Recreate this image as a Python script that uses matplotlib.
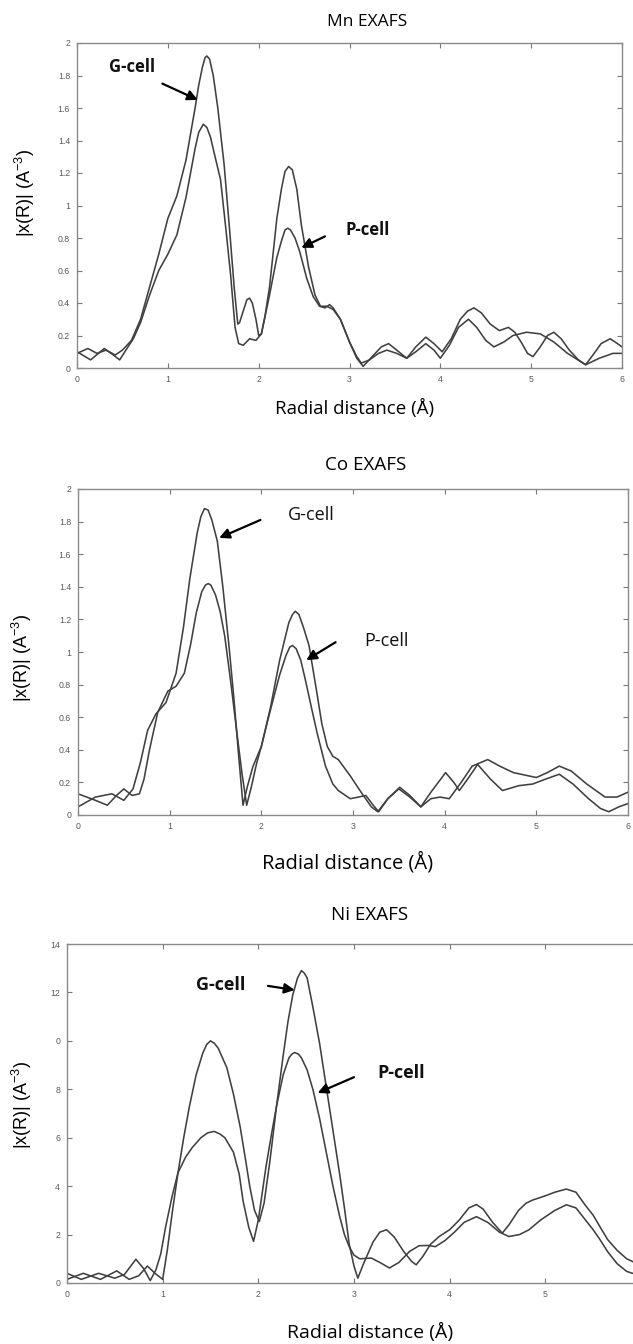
"""
Mn / Co / Ni EXAFS radial distribution, G-cell vs P-cell
"""

import matplotlib
matplotlib.use("Agg")
import matplotlib.pyplot as plt

plt.rcParams['mathtext.default'] = 'regular'

# ---- Mn EXAFS ----
mn_g_x = [0, 0.12, 0.22, 0.32, 0.42, 0.5, 0.6, 0.7, 0.8, 0.9, 1.0, 1.1, 1.2, 1.3, 1.34, 1.38,
          1.41, 1.43, 1.46, 1.5, 1.55, 1.62, 1.68, 1.73, 1.77, 1.79, 1.83, 1.87, 1.9, 1.93, 1.97,
          2.0, 2.03, 2.07, 2.12, 2.2, 2.25, 2.29, 2.33, 2.37, 2.42, 2.47, 2.55, 2.62, 2.68, 2.75,
          2.82, 2.9, 3.0, 3.08, 3.15, 3.25, 3.35, 3.43, 3.52, 3.63, 3.73, 3.84, 3.93, 4.02, 4.12,
          4.22, 4.3, 4.37, 4.45, 4.55, 4.65, 4.75, 4.82, 4.9, 4.96, 5.02, 5.1, 5.18, 5.25, 5.33,
          5.42, 5.52, 5.6, 5.68, 5.77, 5.87, 5.95, 6.0]
mn_g_y = [0.09, 0.12, 0.09, 0.11, 0.08, 0.11, 0.17, 0.30, 0.50, 0.70, 0.92, 1.06, 1.28, 1.60,
          1.74, 1.85, 1.91, 1.92, 1.90, 1.80, 1.60, 1.25, 0.85, 0.50, 0.27, 0.28, 0.35, 0.42,
          0.43, 0.40, 0.30, 0.20, 0.21, 0.32, 0.50, 0.92, 1.10, 1.21, 1.24, 1.22, 1.10, 0.88,
          0.62, 0.45, 0.38, 0.38, 0.36, 0.30, 0.16, 0.06, 0.01, 0.07, 0.13, 0.15, 0.11, 0.06,
          0.13, 0.19, 0.15, 0.10, 0.18, 0.30, 0.35, 0.37, 0.34, 0.27, 0.23, 0.25, 0.22, 0.15,
          0.09, 0.07, 0.13, 0.20, 0.22, 0.18, 0.11, 0.05, 0.02, 0.08, 0.15, 0.18, 0.15, 0.13]
mn_p_x = [0, 0.15, 0.3, 0.4, 0.47, 0.55, 0.62, 0.7, 0.8, 0.9, 1.0, 1.1, 1.2, 1.3, 1.34, 1.39,
          1.43, 1.47, 1.52, 1.58, 1.64, 1.69, 1.74, 1.78, 1.83, 1.9, 1.97, 2.03, 2.12, 2.2, 2.25,
          2.29, 2.32, 2.35, 2.4, 2.45, 2.53, 2.6, 2.67, 2.73, 2.78, 2.82, 2.9, 3.0, 3.08, 3.13,
          3.22, 3.32, 3.41, 3.52, 3.63, 3.73, 3.84, 3.93, 4.0, 4.1, 4.2, 4.31, 4.4, 4.5, 4.59,
          4.7, 4.8, 4.95, 5.1, 5.25, 5.4, 5.6, 5.75, 5.9, 6.0]
mn_p_y = [0.10, 0.05, 0.12, 0.08, 0.05, 0.12, 0.18, 0.28, 0.45, 0.60, 0.70, 0.82, 1.05, 1.35,
          1.45, 1.50, 1.48, 1.42, 1.30, 1.16, 0.85, 0.58, 0.25, 0.15, 0.14, 0.18, 0.17, 0.21,
          0.45, 0.68, 0.78, 0.85, 0.86, 0.85, 0.80, 0.72, 0.55, 0.44, 0.38, 0.37, 0.39, 0.37,
          0.30, 0.16, 0.07, 0.03, 0.05, 0.09, 0.11, 0.09, 0.06, 0.10, 0.15, 0.11, 0.06, 0.14,
          0.25, 0.30, 0.25, 0.17, 0.13, 0.16, 0.20, 0.22, 0.21, 0.16, 0.09, 0.02, 0.06, 0.09,
          0.09]

# ---- Co EXAFS ----
co_g_x = [0, 0.19, 0.37, 0.5, 0.6, 0.68, 0.76, 0.85, 0.96, 1.07, 1.15, 1.22, 1.3, 1.34, 1.38,
          1.42, 1.46, 1.52, 1.58, 1.65, 1.7, 1.75, 1.8, 1.85, 1.91, 2.0, 2.1, 2.2, 2.3, 2.34, 2.37,
          2.41, 2.46, 2.52, 2.6, 2.66, 2.72, 2.78, 2.84, 2.97, 3.1, 3.2, 3.27, 3.38, 3.5, 3.62,
          3.74, 3.85, 3.95, 4.05, 4.18, 4.3, 4.47, 4.6, 4.75, 5.0, 5.12, 5.25, 5.38, 5.55, 5.75,
          5.88, 6.0]
co_g_y = [0.05, 0.11, 0.13, 0.09, 0.16, 0.32, 0.52, 0.62, 0.69, 0.87, 1.15, 1.45, 1.73, 1.83,
          1.88, 1.87, 1.81, 1.68, 1.40, 1.02, 0.72, 0.38, 0.06, 0.18, 0.30, 0.42, 0.66, 0.95,
          1.18, 1.23, 1.25, 1.23, 1.15, 1.04, 0.77, 0.56, 0.42, 0.36, 0.34, 0.24, 0.13, 0.05,
          0.02, 0.10, 0.16, 0.11, 0.05, 0.10, 0.11, 0.10, 0.20, 0.30, 0.34, 0.30, 0.26, 0.23,
          0.26, 0.30, 0.27, 0.19, 0.11, 0.11, 0.14]
co_p_x = [0, 0.19, 0.32, 0.42, 0.5, 0.59, 0.67, 0.72, 0.78, 0.87, 0.98, 1.07, 1.16, 1.23, 1.29,
          1.35, 1.39, 1.42, 1.45, 1.5, 1.55, 1.6, 1.67, 1.73, 1.79, 1.84, 1.89, 1.95, 2.0, 2.07,
          2.13, 2.2, 2.27, 2.31, 2.34, 2.38, 2.43, 2.48, 2.55, 2.61, 2.7, 2.78, 2.84, 2.97, 3.06,
          3.14, 3.22, 3.28, 3.38, 3.51, 3.62, 3.74, 3.85, 4.01, 4.1, 4.16, 4.25, 4.36, 4.5, 4.63,
          4.81, 4.96, 5.1, 5.25, 5.4, 5.57, 5.7, 5.79, 5.9, 6.0]
co_p_y = [0.13, 0.09, 0.06, 0.12, 0.16, 0.12, 0.13, 0.22, 0.40, 0.63, 0.76, 0.79, 0.87, 1.05,
          1.24, 1.37, 1.41, 1.42, 1.41, 1.35, 1.25, 1.10, 0.80, 0.52, 0.25, 0.06, 0.17, 0.32,
          0.42, 0.58, 0.71, 0.86, 0.98, 1.03, 1.04, 1.02, 0.95, 0.83, 0.65, 0.50, 0.30, 0.19,
          0.15, 0.10, 0.11, 0.12, 0.06, 0.02, 0.10, 0.17, 0.12, 0.05, 0.14, 0.26, 0.20, 0.15,
          0.22, 0.31, 0.22, 0.15, 0.18, 0.19, 0.22, 0.25, 0.19, 0.10, 0.04, 0.02, 0.05, 0.07]

# ---- Ni EXAFS ----
ni_g_x = [0, 0.17, 0.35, 0.52, 0.65, 0.75, 0.84, 0.92, 1.0, 1.05, 1.1, 1.16, 1.22, 1.28, 1.35,
          1.42, 1.46, 1.5, 1.54, 1.58, 1.67, 1.74, 1.81, 1.87, 1.91, 1.96, 2.01, 2.06, 2.12, 2.19,
          2.26, 2.31, 2.36, 2.41, 2.45, 2.48, 2.51, 2.57, 2.64, 2.71, 2.78, 2.85, 2.9, 2.95, 3.0,
          3.04, 3.1, 3.2, 3.27, 3.34, 3.42, 3.52, 3.6, 3.65, 3.72, 3.8, 3.89, 4.0, 4.1, 4.2, 4.28,
          4.35, 4.45, 4.55, 4.62, 4.72, 4.8, 4.87, 5.0, 5.1, 5.22, 5.32, 5.42, 5.5, 5.57, 5.65,
          5.75, 5.85, 5.91, 6.0]
ni_g_y = [0.15, 0.4, 0.15, 0.5, 0.15, 0.3, 0.7, 0.4, 0.15, 1.4, 2.9, 4.55, 6.0, 7.3, 8.6, 9.5,
          9.85, 10.0, 9.9, 9.7, 8.9, 7.8, 6.45, 5.0, 4.0, 3.0, 2.54, 3.3, 5.0, 7.3, 9.4, 10.8,
          11.9, 12.6, 12.9, 12.8, 12.6, 11.4, 9.9, 8.1, 6.3, 4.5, 3.1, 1.6, 0.7, 0.2, 0.8, 1.7,
          2.1, 2.2, 1.9, 1.3, 0.9, 0.75, 1.1, 1.6, 1.92, 2.2, 2.6, 3.1, 3.24, 3.05, 2.5, 2.06,
          2.4, 3.0, 3.3, 3.43, 3.6, 3.75, 3.88, 3.75, 3.2, 2.8, 2.33, 1.8, 1.35, 1.0, 0.89, 0.7]
ni_p_x = [0, 0.15, 0.33, 0.5, 0.6, 0.72, 0.8, 0.87, 0.93, 0.98, 1.03, 1.1, 1.16, 1.24, 1.31,
          1.4, 1.47, 1.54, 1.6, 1.65, 1.74, 1.8, 1.84, 1.9, 1.95, 2.0, 2.08, 2.14, 2.19, 2.26,
          2.32, 2.35, 2.38, 2.42, 2.45, 2.51, 2.57, 2.64, 2.71, 2.78, 2.85, 2.9, 2.95, 3.0, 3.06,
          3.18, 3.27, 3.37, 3.47, 3.58, 3.68, 3.78, 3.85, 3.95, 4.05, 4.15, 4.28, 4.4, 4.52, 4.62,
          4.73, 4.83, 4.95, 5.1, 5.22, 5.32, 5.42, 5.5, 5.57, 5.65, 5.75, 5.85, 5.91, 6.0]
ni_p_y = [0.4, 0.15, 0.4, 0.2, 0.35, 0.98, 0.6, 0.1, 0.55, 1.2, 2.3, 3.6, 4.55, 5.2, 5.6, 6.0,
          6.2, 6.26, 6.15, 6.0, 5.4, 4.5, 3.4, 2.3, 1.72, 2.6, 4.8, 6.2, 7.3, 8.6, 9.3, 9.45,
          9.52, 9.45, 9.3, 8.8, 8.0, 6.8, 5.4, 4.0, 2.75, 2.0, 1.5, 1.15, 1.0, 1.03, 0.85, 0.62,
          0.85, 1.3, 1.54, 1.55, 1.5, 1.75, 2.1, 2.5, 2.74, 2.5, 2.1, 1.92, 2.0, 2.2, 2.6, 3.0,
          3.23, 3.1, 2.6, 2.2, 1.8, 1.3, 0.8, 0.48, 0.4, 0.45]

x_ticks = [0, 1, 2, 3, 4, 5, 6]
small_y_ticks = [0, 0.2, 0.4, 0.6, 0.8, 1.0, 1.2, 1.4, 1.6, 1.8, 2.0]
small_y_labels = ['0', '0.2', '0.4', '0.6', '0.8', '1', '1.2', '1.4', '1.6', '1.8', '2']
ni_y_ticks = [0, 2, 4, 6, 8, 10, 12, 14]
ni_y_labels = ['0', '2', '4', '6', '8', '0', '12', '14']   # "10" is clipped to "0" in the source
ni_x_labels = ['0', '1', '2', '3', '4', '5', '']

LINE = '#404040'
TITLE_FONT = 'Open Sans'
AXIS_FONT = 'Liberation Sans'

fig = plt.figure(figsize=(6.33, 13.44), dpi=100)
W, H = 633.0, 1344.0


def add_panel(left, top, right, bottom):
    """axes from pixel box (origin top-left)"""
    return fig.add_axes([left / W, 1 - bottom / H, (right - left) / W, (bottom - top) / H])


def style_axes(ax, ylim, yticks, ylabels, xlabels=None):
    ax.set_xlim(0, 6)
    ax.set_ylim(*ylim)
    ax.set_xticks(x_ticks)
    ax.set_xticklabels(xlabels if xlabels else [str(t) for t in x_ticks])
    ax.set_yticks(yticks)
    ax.set_yticklabels(ylabels)
    ax.tick_params(direction='in', length=3.5, width=0.8, colors='#777777',
                   labelsize=6.3, labelcolor='#5a5a5a', top=True, right=True, pad=5)
    for sp in ax.spines.values():
        sp.set_color('#8a8a8a')
        sp.set_linewidth(1.0)
    for lab in ax.get_xticklabels() + ax.get_yticklabels():
        lab.set_family(AXIS_FONT)


def arrow(ax, tail, head):
    ax.annotate('', xy=head, xytext=tail,
                arrowprops=dict(arrowstyle='-|>,head_length=0.6,head_width=0.3',
                                color='black', lw=1.6, shrinkA=0, shrinkB=0))


def draw_pair(ax, gx, gy, px, py):
    ax.plot(gx, gy, color=LINE, lw=1.15, solid_joinstyle='round')
    ax.plot(px, py, color=LINE, lw=1.15, solid_joinstyle='round')


# Mn panel
ax1 = add_panel(77, 43, 622, 368)
draw_pair(ax1, mn_g_x, mn_g_y, mn_p_x, mn_p_y)
style_axes(ax1, (0, 2), small_y_ticks, small_y_labels)
ax1.text(0.61, 1.85, 'G-cell', fontsize=12, fontweight='bold', family=TITLE_FONT,
         ha='center', va='center', color='#111111')
arrow(ax1, (0.94, 1.75), (1.33, 1.65))
ax1.text(3.2, 0.85, 'P-cell', fontsize=12, fontweight='bold', family=TITLE_FONT,
         ha='center', va='center', color='#111111')
arrow(ax1, (2.73, 0.81), (2.47, 0.74))
fig.text(367 / W, 1 - 22 / H, 'Mn EXAFS', fontsize=12.5, family=TITLE_FONT, ha='center', va='center')
fig.text(355 / W, 1 - 408 / H, 'Radial distance (Å)', fontsize=13.5, family=TITLE_FONT,
         ha='center', va='center')
fig.text(25 / W, 1 - 193 / H, '|x(R)| (A$^{-3}$)', fontsize=13, family=AXIS_FONT,
         rotation=90, ha='center', va='center')

# Co panel
ax2 = add_panel(78, 489, 628, 815)
draw_pair(ax2, co_g_x, co_g_y, co_p_x, co_p_y)
style_axes(ax2, (0, 2), small_y_ticks, small_y_labels)
ax2.text(2.54, 1.84, 'G-cell', fontsize=13, family=TITLE_FONT, ha='center', va='center',
         color='#111111')
arrow(ax2, (1.99, 1.81), (1.54, 1.70))
ax2.text(3.36, 1.07, 'P-cell', fontsize=13, family=TITLE_FONT, ha='center', va='center',
         color='#111111')
arrow(ax2, (2.81, 1.06), (2.49, 0.95))
fig.text(366 / W, 1 - 465 / H, 'Co EXAFS', fontsize=13.5, family=TITLE_FONT, ha='center', va='center')
fig.text(348 / W, 1 - 863 / H, 'Radial distance (Å)', fontsize=14.5, family=TITLE_FONT,
         ha='center', va='center')
fig.text(22 / W, 1 - 658 / H, '|x(R)| (A$^{-3}$)', fontsize=13, family=AXIS_FONT,
         rotation=90, ha='center', va='center')

# Ni panel (right edge runs past the image)
ax3 = add_panel(67, 944, 641, 1283)
draw_pair(ax3, ni_g_x, ni_g_y, ni_p_x, ni_p_y)
style_axes(ax3, (0, 14), ni_y_ticks, ni_y_labels, ni_x_labels)
ax3.text(1.61, 12.3, 'G-cell', fontsize=13, fontweight='bold', family=TITLE_FONT,
         ha='center', va='center', color='#111111')
arrow(ax3, (2.1, 12.27), (2.38, 12.1))
ax3.text(3.49, 8.68, 'P-cell', fontsize=13, fontweight='bold', family=TITLE_FONT,
         ha='center', va='center', color='#111111')
arrow(ax3, (3.0, 8.5), (2.62, 7.85))
fig.text(370 / W, 1 - 915 / H, 'Ni EXAFS', fontsize=13.5, family=TITLE_FONT, ha='center', va='center')
fig.text(370 / W, 1 - 1332 / H, 'Radial distance (Å)', fontsize=14, family=TITLE_FONT,
         ha='center', va='center')
fig.text(22 / W, 1 - 1105 / H, '|x(R)| (A$^{-3}$)', fontsize=13, family=AXIS_FONT,
         rotation=90, ha='center', va='center')

fig.savefig('out.png', dpi=100)
